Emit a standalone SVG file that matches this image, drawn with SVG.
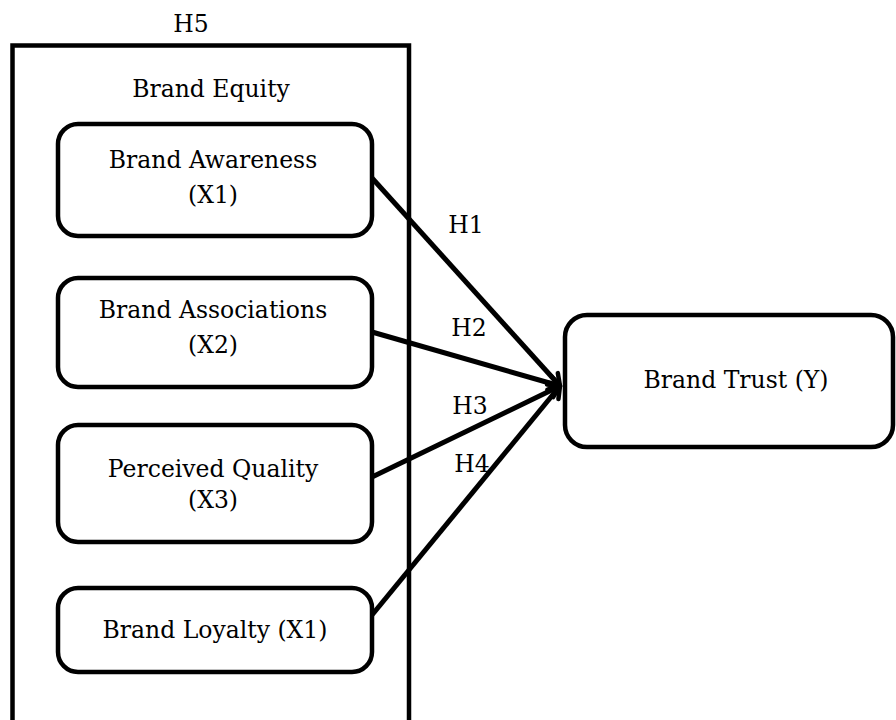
<svg xmlns="http://www.w3.org/2000/svg" width="896" height="720" viewBox="0 0 896 720">
<defs>
<style>
.box{fill:#fff;stroke:#000;stroke-width:4.5}
.frame{fill:none;stroke:#000;stroke-width:4.5}
.t{font-family:"DejaVu Serif","Liberation Serif",serif;font-size:23.5px;fill:#000;text-anchor:middle}
.edge{stroke:#000;stroke-width:5;fill:none}
</style>
<marker id="arr" markerUnits="userSpaceOnUse" viewBox="-14 -10 18 20" refX="0" refY="0" markerWidth="18" markerHeight="20" orient="auto">
<path d="M-11,-7 L0,0 L-11,7" fill="none" stroke="#000" stroke-width="4.5" stroke-linecap="round" stroke-linejoin="round"/>
</marker>
</defs>
<g id="brand-equity">
<rect class="frame" x="12.5" y="45.5" width="396.5" height="700"/>
<text class="t" x="191" y="32">H5</text>
<text class="t" x="211" y="97">Brand Equity</text>
</g>
<g id="connectors">
<line class="edge" x1="372" y1="178" x2="560" y2="386" marker-end="url(#arr)"/>
<line class="edge" x1="372" y1="332" x2="560" y2="386" marker-end="url(#arr)"/>
<line class="edge" x1="372" y1="477" x2="560" y2="386" marker-end="url(#arr)"/>
<line class="edge" x1="372" y1="615" x2="560" y2="386" marker-end="url(#arr)"/>
<text class="t" x="466" y="233">H1</text>
<text class="t" x="469" y="336">H2</text>
<text class="t" x="470" y="414">H3</text>
<text class="t" x="472" y="472">H4</text>
</g>
<g id="x1">
<rect class="box" x="58" y="124" width="314" height="112" rx="20"/>
<text class="t" x="213" y="168">Brand Awareness</text>
<text class="t" x="213" y="203">(X1)</text>
</g>
<g id="x2">
<rect class="box" x="58" y="278" width="314" height="109" rx="20"/>
<text class="t" x="213" y="318">Brand Associations</text>
<text class="t" x="213" y="353">(X2)</text>
</g>
<g id="x3">
<rect class="box" x="58" y="425" width="314" height="117" rx="20"/>
<text class="t" x="213" y="477">Perceived Quality</text>
<text class="t" x="213" y="508">(X3)</text>
</g>
<g id="x4">
<rect class="box" x="58" y="588" width="314" height="84" rx="20"/>
<text class="t" x="215" y="638">Brand Loyalty (X1)</text>
</g>
<g id="y">
<rect class="box" x="565" y="315" width="328" height="132" rx="22"/>
<text class="t" x="736" y="388">Brand Trust (Y)</text>
</g>
</svg>
